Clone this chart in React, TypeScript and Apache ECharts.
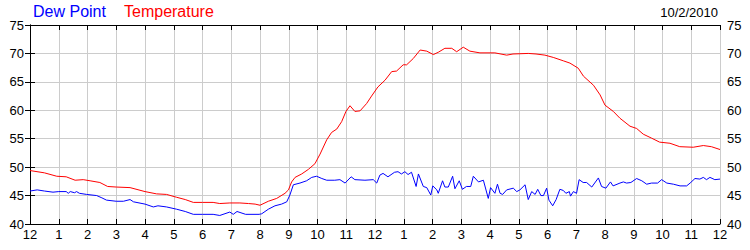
import React, { useEffect, useRef } from "react";
import * as echarts from "echarts";

const hourTicks = ["12", "1", "2", "3", "4", "5", "6", "7", "8", "9", "10", "11", "12", "1", "2", "3", "4", "5", "6", "7", "8", "9", "10", "11", "12"];
const dateLabel = "10/2/2010";
const seriesNames = ["Dew Point", "Temperature"];

const temperature: [number, number][] = [
  [0, 49.4], [0.5, 49.0], [0.93, 48.4], [1.26, 48.3], [1.57, 47.7], [1.85, 47.8], [2.09, 47.6], [2.43, 47.3],
  [2.7, 46.6], [3.0, 46.5], [3.48, 46.4], [4.0, 45.7], [4.4, 45.3], [4.75, 45.2], [5.1, 44.7], [5.4, 44.3],
  [5.68, 43.8], [6.0, 43.8], [6.37, 43.8], [6.6, 43.6], [6.95, 43.7], [7.3, 43.7], [7.6, 43.6], [7.83, 43.5],
  [8.0, 43.3], [8.29, 44.0], [8.58, 44.5], [8.87, 45.4], [8.99, 46.0], [9.1, 47.4], [9.22, 48.2], [9.45, 48.8],
  [9.68, 49.6], [9.91, 50.6], [10.09, 52.3], [10.32, 54.8], [10.49, 56.1], [10.67, 56.7], [10.84, 58.0],
  [10.99, 59.8], [11.13, 60.8], [11.3, 59.8], [11.48, 59.9], [11.71, 61.2], [11.88, 62.5], [12.1, 64.1],
  [12.35, 65.3], [12.58, 66.8], [12.75, 66.9], [12.98, 68.0], [13.1, 68.0], [13.33, 69.1], [13.57, 70.6],
  [13.8, 70.4], [14.03, 69.8], [14.2, 70.2], [14.43, 70.9], [14.67, 70.9], [14.84, 70.3], [15.07, 71.1],
  [15.3, 70.4], [15.65, 70.1], [16.17, 70.1], [16.58, 69.7], [16.8, 69.9], [17.33, 70.0], [17.6, 69.9],
  [17.91, 69.7], [18.2, 69.3], [18.55, 68.7], [18.78, 68.3], [19.07, 67.4], [19.25, 66.0], [19.6, 64.4],
  [19.83, 62.7], [20.0, 60.9], [20.29, 59.8], [20.52, 58.6], [20.87, 57.2], [21.1, 56.8], [21.33, 55.8],
  [21.62, 55.1], [21.9, 54.4], [22.26, 54.2], [22.6, 53.6], [23.07, 53.5], [23.42, 53.8], [23.7, 53.6], [24, 53.1],
];

const dewPoint: [number, number][] = [
  [0, 45.8], [0.25, 46.0], [0.5, 45.8], [0.8, 45.6], [1.0, 45.7], [1.26, 45.7], [1.33, 45.4], [1.4, 45.7],
  [1.55, 45.5], [1.62, 45.7], [1.72, 45.4], [1.97, 45.2], [2.32, 45.0], [2.5, 44.6], [2.66, 44.2], [3.0, 44.0],
  [3.25, 44.0], [3.48, 44.3], [3.6, 43.9], [4.0, 43.5], [4.29, 43.0], [4.45, 43.2], [4.75, 43.0], [5.1, 42.6],
  [5.4, 42.2], [5.68, 41.7], [6.0, 41.7], [6.37, 41.7], [6.6, 41.5], [6.95, 42.1], [7.07, 41.7], [7.2, 42.2],
  [7.5, 41.7], [7.97, 41.7], [8.06, 41.8], [8.29, 42.6], [8.52, 43.2], [8.75, 43.5], [8.93, 43.9], [9.04, 45.1],
  [9.16, 46.9], [9.39, 47.2], [9.62, 47.6], [9.8, 48.2], [9.97, 48.4], [10.15, 48.0], [10.32, 47.7], [10.6, 47.7],
  [10.78, 47.8], [10.96, 47.2], [11.17, 48.3], [11.3, 47.8], [11.65, 47.7], [11.94, 47.8], [12.06, 47.2],
  [12.17, 48.6], [12.28, 48.9], [12.45, 48.3], [12.68, 49.1], [12.8, 49.2], [12.92, 48.8], [13.04, 49.2],
  [13.15, 48.7], [13.27, 49.1], [13.43, 46.6], [13.51, 48.8], [13.68, 46.6], [13.8, 46.4], [13.94, 45.1],
  [14.01, 46.7], [14.15, 46.0], [14.2, 45.4], [14.35, 47.6], [14.43, 46.5], [14.55, 46.5], [14.7, 48.4],
  [14.78, 46.2], [14.93, 47.6], [15.04, 46.1], [15.18, 46.6], [15.33, 46.6], [15.42, 48.4], [15.6, 47.4],
  [15.77, 47.7], [15.94, 44.5], [16.02, 46.4], [16.17, 45.4], [16.26, 47.0], [16.35, 45.4], [16.44, 45.2],
  [16.58, 46.0], [16.81, 46.3], [16.93, 45.7], [17.04, 46.0], [17.22, 46.9], [17.33, 44.3], [17.45, 45.7],
  [17.57, 45.2], [17.66, 46.1], [17.77, 45.0], [17.86, 45.0], [17.97, 46.3], [18.05, 44.2], [18.18, 43.2],
  [18.3, 44.3], [18.43, 46.1], [18.55, 45.9], [18.64, 45.4], [18.76, 45.7], [18.8, 44.9], [18.9, 45.7],
  [19.01, 45.4], [19.1, 47.8], [19.24, 47.3], [19.36, 47.3], [19.54, 46.5], [19.77, 48.1], [19.88, 46.6],
  [20.03, 46.3], [20.19, 47.4], [20.28, 46.7], [20.52, 47.2], [20.64, 47.4], [20.75, 47.2], [20.9, 47.3],
  [21.1, 48.0], [21.28, 47.6], [21.45, 47.0], [21.62, 47.2], [21.83, 47.2], [21.97, 47.8], [22.15, 47.2],
  [22.38, 47.0], [22.61, 46.7], [22.84, 46.7], [22.96, 47.2], [23.13, 48.0], [23.3, 47.9], [23.42, 48.2],
  [23.53, 47.8], [23.65, 48.2], [23.82, 47.8], [24, 47.9],
];

const FONT = "'Liberation Sans', Arial, sans-serif";
const BLUE = "#0000ff";
const RED = "#ff0000";

export default function App() {
  const ref = useRef<HTMLDivElement>(null);
  useEffect(() => {
    if (!ref.current) return;
    const chart = echarts.init(ref.current, undefined, { renderer: "svg" });
    const axisLine = { show: true, lineStyle: { color: "#000", width: 1 } };
    const tick = { show: true, inside: true, length: 5, lineStyle: { color: "#000" } };
    const yBase = {
      type: "value" as const,
      min: 40,
      max: 75,
      interval: 5,
      axisLine,
      axisTick: tick,
    };
    chart.setOption({
      animation: false,
      backgroundColor: "#fff",
      grid: { left: 30, right: 30, top: 25, bottom: 26, containLabel: false },
      xAxis: [
        {
          type: "value",
          position: "bottom",
          min: 0,
          max: 24,
          interval: 1,
          axisLine,
          axisTick: tick,
          splitLine: { show: true, lineStyle: { color: "#cccccc", width: 1 } },
          axisLabel: {
            margin: 4,
            color: "#000",
            fontSize: 13,
            fontFamily: FONT,
            formatter: (v: number) => hourTicks[Math.round(v)] ?? "",
          },
        },
        {
          type: "value",
          position: "top",
          min: 0,
          max: 24,
          interval: 1,
          axisLine,
          axisTick: tick,
          splitLine: { show: false },
          axisLabel: { show: false },
        },
      ],
      yAxis: [
        {
          ...yBase,
          position: "left",
          splitLine: { show: true, lineStyle: { color: "#cccccc", width: 1 } },
          axisLabel: { margin: 6, color: "#000", fontSize: 13, fontFamily: FONT },
        },
        {
          ...yBase,
          position: "right",
          splitLine: { show: false },
          axisLabel: { margin: 7, color: "#000", fontSize: 13, fontFamily: FONT },
        },
      ],
      graphic: [
        {
          type: "text",
          left: 33,
          top: 3,
          style: { text: seriesNames[0], fill: BLUE, font: `16px ${FONT}` },
        },
        {
          type: "text",
          left: 124,
          top: 3,
          style: { text: seriesNames[1], fill: RED, font: `16px ${FONT}` },
        },
        {
          type: "text",
          right: 32,
          top: 6,
          style: { text: dateLabel, fill: "#000", font: `13px ${FONT}` },
        },
      ],
      series: [
        {
          name: seriesNames[1],
          type: "line",
          data: temperature,
          showSymbol: false,
          lineStyle: { color: RED, width: 1 },
          itemStyle: { color: RED },
        },
        {
          name: seriesNames[0],
          type: "line",
          data: dewPoint,
          showSymbol: false,
          lineStyle: { color: BLUE, width: 1 },
          itemStyle: { color: BLUE },
        },
      ],
    });
    return () => chart.dispose();
  }, []);
  return (
    <div
      ref={ref}
      style={{ position: "fixed", left: 0, top: 0, width: 750, height: 250 }}
    />
  );
}
